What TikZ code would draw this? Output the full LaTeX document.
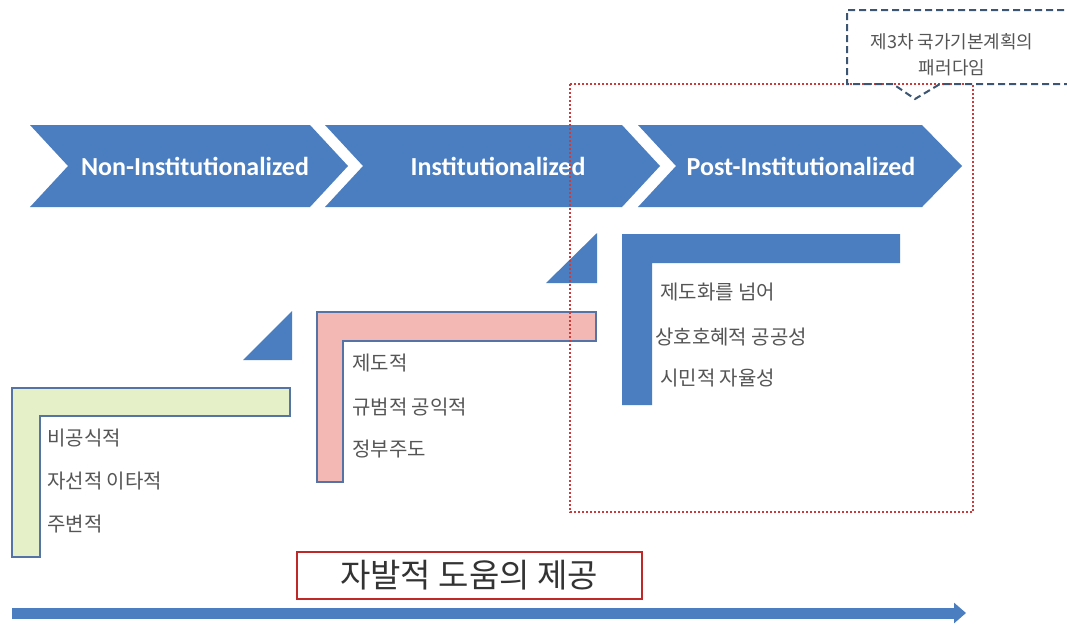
\documentclass[tikz,border=0pt]{standalone}
\usepackage{fontspec}
\setmainfont{Carlito}
\newfontfamily\kr{Noto Sans CJK KR}
\newfontfamily\lat{Carlito}
\usetikzlibrary{arrows.meta}
\definecolor{chev}{RGB}{74,126,193}
\definecolor{lgreen}{RGB}{230,240,200}
\definecolor{lpink}{RGB}{244,184,180}
\definecolor{edgeb}{RGB}{85,115,165}
\definecolor{txt}{RGB}{85,85,85}
\definecolor{dred}{RGB}{200,60,60}
\definecolor{callout}{RGB}{60,85,115}
\definecolor{boxred}{RGB}{190,40,40}
\tikzset{
  chevlabel/.style={text=white,font=\lat\bfseries\fontsize{26}{28}\selectfont,inner sep=0pt},
  item/.style={anchor=west,text=txt,font=\kr\fontsize{20}{22}\selectfont,inner sep=0pt},
  lshape/.style={draw=edgeb,line width=1.6pt},
  wedge/.style={fill=chev},
}
\begin{document}
\begin{tikzpicture}[x=1pt,y=-1pt]
\useasboundingbox (0,0) rectangle (1067,625);
\fill[white] (0,0) rectangle (1067,625);
% chevrons
\fill[chev] (30,125) -- (310,125) -- (348,166) -- (310,207) -- (30,207) -- (68,166) -- cycle;
\fill[chev] (325,125) -- (622,125) -- (660,166) -- (622,207) -- (325,207) -- (363,166) -- cycle;
\fill[chev] (638,125) -- (922,125) -- (962,166) -- (922,207) -- (638,207) -- (676,166) -- cycle;
\node[chevlabel] (c1) at (195,166) {Non-Institutionalized};
\node[chevlabel] (c2) at (498,166) {Institutionalized};
\node[chevlabel] (c3) at (801,166) {Post-Institutionalized};
% L shapes
\filldraw[lshape,fill=lgreen] (12,388) -- (290,388) -- (290,416) -- (40,416) -- (40,557) -- (12,557) -- cycle;
\filldraw[lshape,fill=lpink] (317,312) -- (596,312) -- (596,341) -- (343,341) -- (343,482) -- (317,482) -- cycle;
\fill[chev] (622,234) -- (900,234) -- (900,263) -- (652,263) -- (652,405) -- (622,405) -- cycle;
% wedges
\fill[wedge] (243,360) -- (292,360) -- (292,311) -- cycle;
\fill[wedge] (546,283) -- (597,283) -- (597,233) -- cycle;
% texts
\node[item] (g1) at (47,438) {비공식적};
\node[item] (g2) at (47,481) {자선적 이타적};
\node[item] (g3) at (47,524) {주변적};
\node[item] (p1) at (352,363) {제도적};
\node[item] (p2) at (352,407) {규범적 공익적};
\node[item] (p3) at (352,449) {정부주도};
\node[item] (b1) at (660,292) {제도화를 넘어};
\node[item] (b2) at (655,337) {상호호혜적 공공성};
\node[item] (b3) at (660,378) {시민적 자율성};
% red dotted frame
\draw[dred,dotted,line width=2pt] (570,84) rectangle (973,512);
% callout
\draw[callout,dashed,line width=2pt,dash pattern=on 7pt off 4pt] (1075,10) -- (847,10) -- (847,84) -- (893,84) -- (915,99) -- (940,84) -- (1075,84);
\node[text=txt,font=\kr\fontsize{18}{26}\selectfont,align=center] (co) at (952,55) {제3차 국가기본계획의\\패러다임};
% bottom box and arrow
\node[draw=boxred,line width=2pt,minimum width=345pt,minimum height=47pt,inner sep=0pt,font=\kr\fontsize{33}{35}\selectfont,text=black!80] (sb) at (469,575) {자발적 도움의 제공};
\coordinate (as) at (12,613);
\coordinate (ae) at (966,613);
\draw[chev,line width=11pt,-{Triangle[length=12pt,width=20pt]}] (as) -- (ae);
\end{tikzpicture}
\end{document}
